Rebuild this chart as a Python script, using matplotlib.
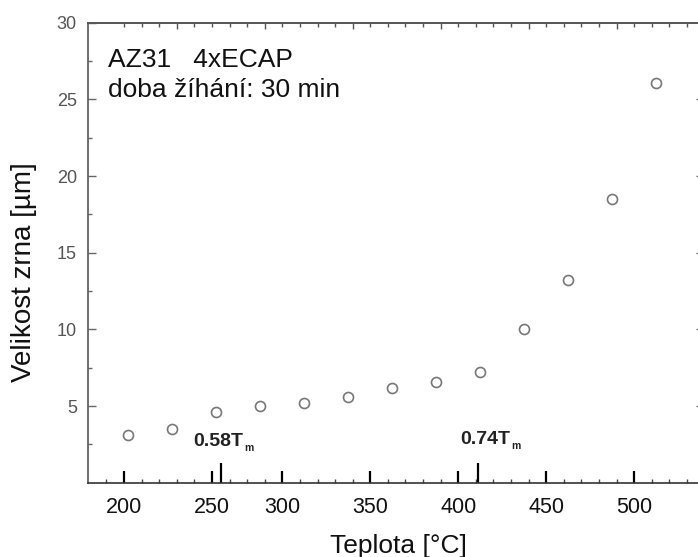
import numpy as np
import matplotlib.pyplot as plt
from matplotlib.ticker import FixedLocator, NullFormatter

# teplota zihani [°C] a velikost zrna [um]
teplota = [212.5, 237.5, 262.5, 287.5, 312.5, 337.5, 362.5, 387.5, 412.5, 437.5, 462.5, 487.5, 512.5]
zrno = [3.1, 3.5, 4.6, 5.0, 5.2, 5.6, 6.2, 6.6, 7.2, 10.0, 13.2, 18.5, 26.1]

# popisky osy x (puvodni obrazek ma 200 a 250 posunute)
xtick_pos = [210, 260, 300, 350, 400, 450, 500]
xtick_lab = ['200', '250', '300', '350', '400', '450', '500']
top_major = [240, 290, 340, 390, 440, 490, 540]
ytick_pos = [5, 10, 15, 20, 25, 30]

# homologicke teploty
tm_pos = [265, 411]
tm_lab = ['0.58T', '0.74T']
tm_text_x = [249.4, 401.4]
tm_text_y = [2.4, 2.5]

plt.rcParams['font.family'] = ['Liberation Sans', 'DejaVu Sans']

fig = plt.figure(figsize=(6.98, 5.57), dpi=100)
ax = fig.add_axes([88 / 698, 74.3 / 557, 613 / 698, 460 / 557])

ax.plot(teplota, zrno, 'o', mfc='none', mec='#777777', mew=1.2, ms=7.2)

ax.set_xlim(189.5, 538)
ax.set_ylim(0, 30)

for s in ax.spines.values():
    s.set_color('#555555')
    s.set_linewidth(1.2)
ax.spines['bottom'].set_color('#333333')

# osa x dole
ax.xaxis.set_major_locator(FixedLocator(xtick_pos))
ax.set_xticklabels(xtick_lab)
ax.xaxis.set_minor_locator(FixedLocator(np.arange(200, 540, 10)))
ax.tick_params(axis='x', which='major', direction='in', length=8.6, width=1.6,
               color='black', labelsize=15.5, pad=10, labelcolor='#111111')
ax.tick_params(axis='x', which='minor', direction='in', length=3.2, width=1.0, color='#444444')

# osa y vlevo
ax.set_yticks(ytick_pos)
ax.yaxis.set_minor_locator(FixedLocator(np.arange(2.5, 30, 5)))
ax.tick_params(axis='y', which='major', direction='in', length=5.5, width=1.0,
               color='#666666', labelsize=13, labelcolor='#555555', pad=8)
ax.tick_params(axis='y', which='minor', direction='in', length=3, width=1.0, color='#666666')

# horni osa
top = ax.secondary_xaxis('top')
top.xaxis.set_major_locator(FixedLocator(top_major))
top.xaxis.set_minor_locator(FixedLocator(np.arange(210, 540, 10)))
top.xaxis.set_major_formatter(NullFormatter())
top.tick_params(which='major', direction='in', length=4.5, width=1.0, color='#555555')
top.tick_params(which='minor', direction='in', length=3, width=1.0, color='#555555')
top.spines['top'].set_color('#555555')
top.spines['top'].set_linewidth(1.2)

# prava osa
right = ax.secondary_yaxis('right')
right.set_yticks(ytick_pos[:-1])
right.yaxis.set_major_formatter(NullFormatter())
right.tick_params(direction='in', length=3.5, width=1.0, color='#666666')

# znacky Tm
for p, lab, tx, ty in zip(tm_pos, tm_lab, tm_text_x, tm_text_y):
    ax.plot([p, p], [0, 1.3], color='black', lw=1.6, solid_capstyle='butt', clip_on=False)
    t = ax.text(tx, ty, lab, fontsize=14, fontweight='bold', color='#222222', va='baseline')
    ax.annotate('m', xy=(1, 0), xycoords=t, xytext=(0.5, 5), textcoords='offset points',
                fontsize=7.5, fontweight='bold', color='#222222', ha='left', va='top')

ax.text(201.1, 27.1, 'AZ31   4xECAP', fontsize=19, va='baseline', color='#111111')
ax.text(201.1, 25.16, 'doba žíhání: 30 min', fontsize=19, va='baseline', color='#111111')

ax.set_xlabel('Teplota [°C]', fontsize=19, color='#111111')
ax.xaxis.label.set_va('baseline')
ax.xaxis.set_label_coords((398.8 - 88) / 613, -(553 - 482.7) / 460)
ax.set_ylabel('Velikost zrna [µm]', fontsize=20, color='#111111')
ax.yaxis.label.set_va('center')
ax.yaxis.set_label_coords(-(88 - 24) / 613, (482.7 - 272) / 460)

fig.savefig('out.png', dpi=100, facecolor='white')
